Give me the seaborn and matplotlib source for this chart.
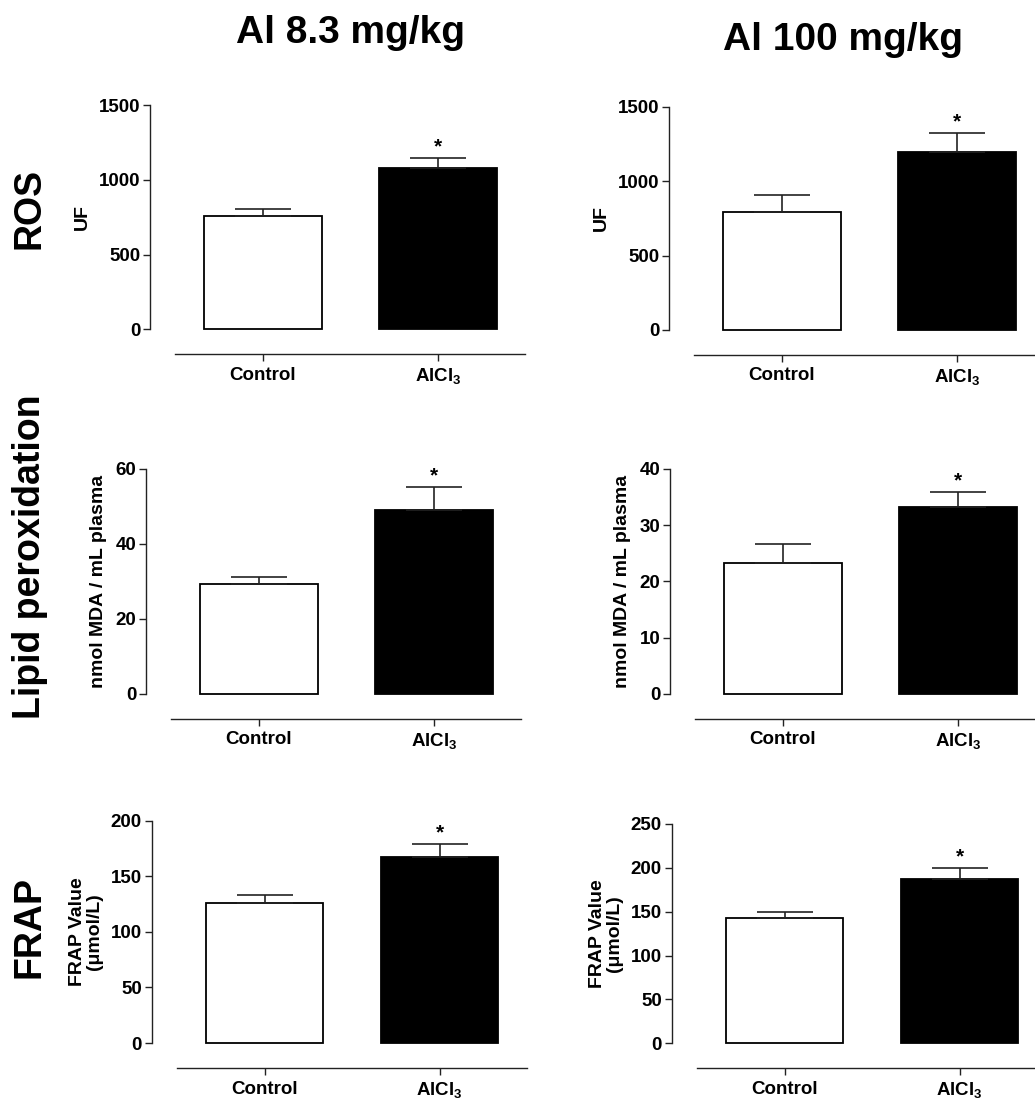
import numpy as np
import matplotlib
matplotlib.use("Agg")
import matplotlib.pyplot as plt
import seaborn as sns

# ------------------------------
# Data (mean, SEM)
# ------------------------------

groups = ["Control", "AlCl3"]
group_labels = ["Control", r"AlCl$_{\mathrm{3}}$"]

ros_83_mean = [757, 1079]
ros_83_sem = [45, 69]
ros_100_mean = [790, 1197]
ros_100_sem = [117, 128]

lpo_83_mean = [29.2, 49.0]
lpo_83_sem = [1.9, 6.3]
lpo_100_mean = [23.2, 33.2]
lpo_100_sem = [3.5, 2.7]

frap_83_mean = [126.2, 167.3]
frap_83_sem = [7.2, 11.5]
frap_100_mean = [142.5, 187.0]
frap_100_sem = [7.2, 13.2]

ros_ticks = [0, 500, 1000, 1500]
lpo_83_ticks = [0, 20, 40, 60]
lpo_100_ticks = [0, 10, 20, 30, 40]
frap_83_ticks = [0, 50, 100, 150, 200]
frap_100_ticks = [0, 50, 100, 150, 200, 250]

col_titles = ["Al 8.3 mg/kg", "Al 100 mg/kg"]
row_titles = ["ROS", "Lipid peroxidation", "FRAP"]
ylabels = ["UF", "nmol MDA / mL plasma", "FRAP Value\n(\u03bcmol/L)"]

# ------------------------------
# Style
# ------------------------------

sns.set_style("ticks")
plt.rcParams["font.family"] = ["Liberation Sans", "DejaVu Sans"]
plt.rcParams["font.weight"] = "bold"
plt.rcParams["mathtext.fontset"] = "custom"
plt.rcParams["mathtext.rm"] = "Liberation Sans"
plt.rcParams["mathtext.bf"] = "Liberation Sans:bold"
plt.rcParams["axes.linewidth"] = 1.0
plt.rcParams["axes.edgecolor"] = "#222222"
plt.rcParams["text.color"] = "black"
plt.rcParams["axes.labelcolor"] = "black"
plt.rcParams["xtick.labelcolor"] = "black"
plt.rcParams["ytick.labelcolor"] = "black"

W, H = 1035, 1102
fig = plt.figure(figsize=(W / 100, H / 100), dpi=100)

# panel layout in pixels: (spine x, top y, zero y)
UNIT = 175
XL = -0.645
XR = 1.5
panels = [
    (150, 105, 329.3, ros_83_mean, ros_83_sem, ros_ticks, 0),
    (669, 106.7, 330, ros_100_mean, ros_100_sem, ros_ticks, 0),
    (146, 469, 693.7, lpo_83_mean, lpo_83_sem, lpo_83_ticks, 1),
    (670, 469, 693.7, lpo_100_mean, lpo_100_sem, lpo_100_ticks, 1),
    (151.7, 820.7, 1043, frap_83_mean, frap_83_sem, frap_83_ticks, 2),
    (671.7, 824, 1043.3, frap_100_mean, frap_100_sem, frap_100_ticks, 2),
]

for sx, ty, zy, means, sems, ticks, row in panels:
    wpx = (XR - XL) * UNIT
    ax = fig.add_axes([sx / W, 1 - zy / H, wpx / W, (zy - ty) / H])

    sns.barplot(x=groups, y=means, hue=groups, palette=["white", "black"],
                edgecolor="black", linewidth=1.3, width=0.67,
                errorbar=None, legend=False, ax=ax)
    for p in ax.patches:
        p.set_clip_on(False)

    # upper-only error bars
    ax.errorbar([0, 1], means, yerr=[[0, 0], sems], fmt="none",
                ecolor="#222222", elinewidth=1.2, capsize=20, capthick=1.2,
                clip_on=False)
    ax.annotate("*", (1, means[1] + sems[1]), xytext=(0, 1),
                textcoords="offset points", ha="center", va="bottom",
                fontsize=15, fontweight="bold", color="black")

    ax.set_xlim(XL, XR)
    ax.set_ylim(0, ticks[-1])
    ax.set_yticks(ticks)
    ax.set_yticklabels([str(t) for t in ticks])
    ax.set_xticks([0, 1])
    ax.set_xticklabels(group_labels)

    sns.despine(ax=ax)
    ax.spines["bottom"].set_position(("outward", 18))
    ax.spines["bottom"].set_bounds(-0.5, 1.5)
    ax.spines["left"].set_bounds(0, ticks[-1])

    ax.tick_params(axis="both", length=5, width=1.0, colors="#222222",
                   labelcolor="black", labelsize=13.5, pad=2)
    ax.tick_params(axis="x", pad=4)
    for lab in ax.get_xticklabels() + ax.get_yticklabels():
        lab.set_fontweight("bold")
    ax.set_xlabel("")
    ax.set_ylabel(ylabels[row], fontsize=14, fontweight="bold", labelpad=6,
                  linespacing=1.0, color="black")
    ax.patch.set_alpha(0)

# column and row headings
fig.text(351 / W, 1 - 43 / H, col_titles[0], ha="center", va="baseline",
         fontsize=28, fontweight="bold", color="black")
fig.text(843 / W, 1 - 50 / H, col_titles[1], ha="center", va="baseline",
         fontsize=28, fontweight="bold", color="black")
for ylab, yc in zip(row_titles, [208, 557, 927]):
    fig.text(30 / W, 1 - yc / H, ylab, ha="center", va="center",
             rotation=90, fontsize=27, fontweight="bold", color="black")

fig.savefig("out.png", dpi=100)
